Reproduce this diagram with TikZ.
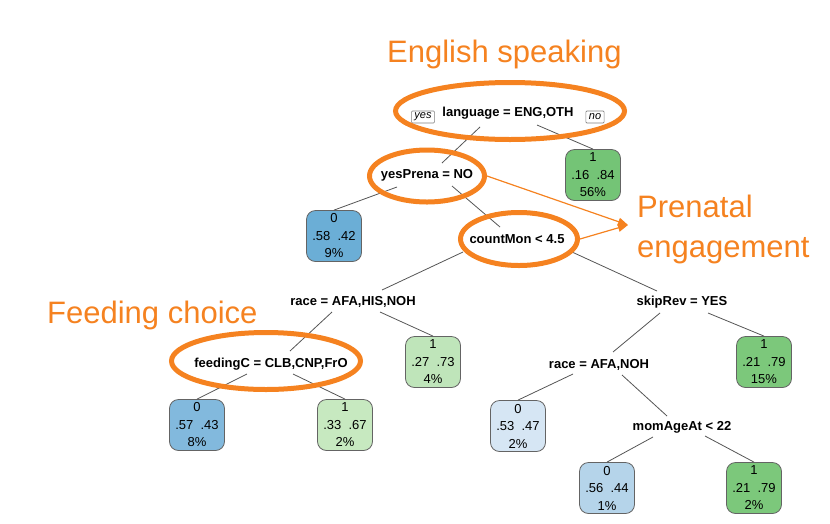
\documentclass[tikz,border=0pt]{standalone}
\usepackage{fontspec}
\setmainfont{Liberation Sans}
\usetikzlibrary{positioning, calc, arrows.meta, shapes.geometric}

\definecolor{hiorange}{RGB}{245,130,32}
\definecolor{branchgray}{RGB}{85,85,85}
\definecolor{leafline}{RGB}{100,100,100}
\definecolor{blueA}{RGB}{107,174,214}
\definecolor{blueB}{RGB}{130,185,221}
\definecolor{blueC}{RGB}{181,212,234}
\definecolor{blueD}{RGB}{214,230,244}
\definecolor{greenA}{RGB}{116,196,118}
\definecolor{greenB}{RGB}{124,200,123}
\definecolor{greenC}{RGB}{191,229,186}
\definecolor{greenD}{RGB}{199,233,192}

\begin{document}
\begin{tikzpicture}[
        x=1pt, y=-1pt,
        split/.style={font=\fontsize{13}{15}\selectfont\bfseries, inner sep=0pt, anchor=base},
        leaf/.style={
            draw=leafline,
            line width=0.8pt,
            rounded corners=9pt,
            minimum width=55pt,
            minimum height=51pt,
            inner sep=1pt,
            align=center,
            font=\fontsize{13}{17.5}\selectfont
        },
        branch/.style={draw=branchgray, line width=0.8pt},
        ring/.style={draw=hiorange, ellipse, line width=5pt, inner sep=0pt},
        callout/.style={font=\fontsize{31}{38}\selectfont, text=hiorange, inner sep=0pt, anchor=base west},
        pointer/.style={draw=hiorange, line width=1.2pt, -{Triangle[length=10pt,width=8pt]}},
        yesno/.style={draw=gray, line width=0.6pt, rounded corners=1pt, font=\fontsize{11}{12}\selectfont\itshape, inner xsep=3pt, inner ysep=1pt, minimum height=12pt}
    ]

        \useasboundingbox (0,0) rectangle (830,523);

        % Split labels
        \node[split] (lang) at (508,116) {language = ENG,OTH};
        \node[split] (prena) at (427,178) {yesPrena = NO};
        \node[split] (count) at (517,243) {countMon < 4.5};
        \node[split] (raceA) at (353,305) {race = AFA,HIS,NOH};
        \node[split] (feed) at (271,367) {feedingC = CLB,CNP,FrO};
        \node[split] (skip) at (682,305) {skipRev = YES};
        \node[split] (raceB) at (599,368) {race = AFA,NOH};
        \node[split] (age) at (682,430) {momAgeAt < 22};

        % yes / no tags
        \node[yesno] (yes) at (423,117) {yes};
        \node[yesno] (no) at (595,117) {no};

        % Leaves
        \node[leaf, fill=greenA] (l56) at (593,175) {1\\.16\ \ .84\\56\%};
        \node[leaf, fill=blueA] (l9) at (334,236) {0\\.58\ \ .42\\9\%};
        \node[leaf, fill=greenC] (l4) at (433,362) {1\\.27\ \ .73\\4\%};
        \node[leaf, fill=blueB] (l8) at (197,425) {0\\.57\ \ .43\\8\%};
        \node[leaf, fill=greenD] (l2a) at (345,425) {1\\.33\ \ .67\\2\%};
        \node[leaf, fill=greenB] (l15) at (764,362) {1\\.21\ \ .79\\15\%};
        \node[leaf, fill=blueD] (l2b) at (518,426) {0\\.53\ \ .47\\2\%};
        \node[leaf, fill=blueC] (l1) at (607,488) {0\\.56\ \ .44\\1\%};
        \node[leaf, fill=greenB] (l2c) at (754,488) {1\\.21\ \ .79\\2\%};

        % Branches
        \draw[branch] ($(lang.base)+(-28,11)$) -- ($(prena.base)+(15,-15)$);
        \draw[branch] ($(lang.base)+(29,9)$) -- (l56.north);
        \draw[branch] ($(prena.base)+(-30,9)$) -- (l9.north);
        \draw[branch] ($(prena.base)+(25,8)$) -- ($(count.base)+(-17,-16)$);
        \draw[branch] ($(count.base)+(-54,9)$) -- ($(raceA.base)+(29,-15)$);
        \draw[branch] ($(count.base)+(55,9)$) -- ($(skip.base)+(-25,-14)$);
        \draw[branch] ($(raceA.base)+(-21,7)$) -- ($(feed.base)+(19,-16)$);
        \draw[branch] ($(raceA.base)+(27,7)$) -- (l4.north);
        \draw[branch] ($(feed.base)+(-24,7)$) -- (l8.north);
        \draw[branch] ($(feed.base)+(22,7)$) -- (l2a.north);
        \draw[branch] ($(skip.base)+(-22,8)$) -- ($(raceB.base)+(14,-16)$);
        \draw[branch] ($(skip.base)+(26,8)$) -- (l15.north);
        \draw[branch] ($(raceB.base)+(-26,6)$) -- (l2b.north);
        \draw[branch] ($(raceB.base)+(23,7)$) -- ($(age.base)+(-15,-14)$);
        \draw[branch] ($(age.base)+(-29,7)$) -- (l1.north);
        \draw[branch] ($(age.base)+(23,6)$) -- (l2c.north);

        % Highlight rings
        \node[ring, minimum width=229pt, minimum height=57pt] (engRing) at (510,111) {};
        \node[ring, minimum width=115pt, minimum height=52pt] (prenaRing) at (427,176) {};
        \node[ring, minimum width=117pt, minimum height=53pt] (countRing) at (519,239) {};
        \node[ring, minimum width=189pt, minimum height=57pt] (feedRing) at (266,361) {};

        % Callout texts
        \node[callout] (english) at (387,62) {English speaking};
        \node[callout] (prenatal) at (637,217) {Prenatal};
        \node[callout] (engage) at (637,257) {engagement};
        \node[callout] (feeding) at (47,323) {Feeding choice};

        % Pointers
        \coordinate (tip) at (628,225);
        \draw[pointer] (prenaRing.east) -- (tip);
        \draw[pointer] (countRing.east) -- (tip);

    \end{tikzpicture}
\end{document}
